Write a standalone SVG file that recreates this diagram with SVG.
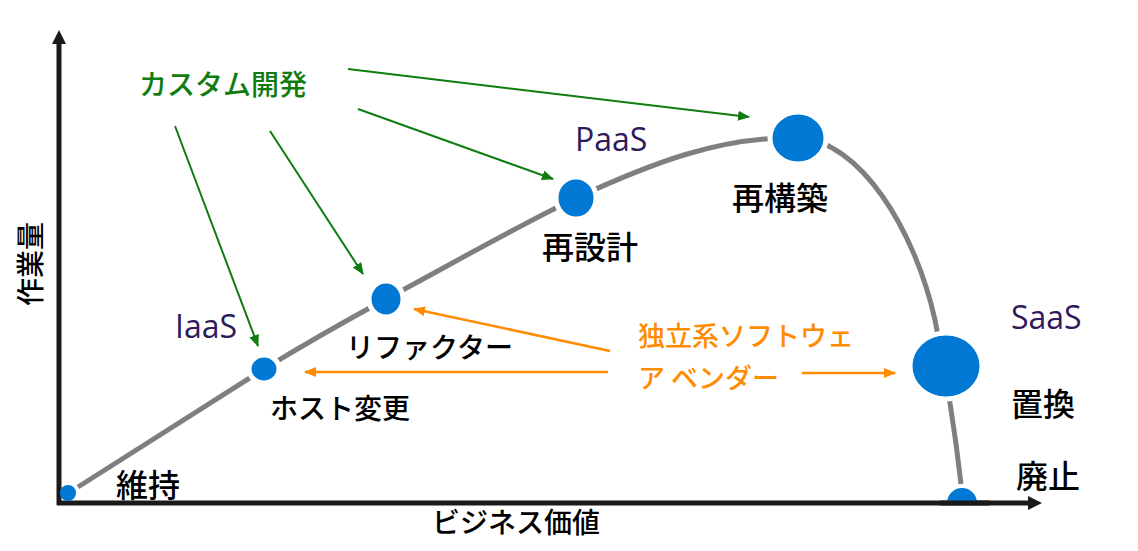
<svg xmlns="http://www.w3.org/2000/svg" width="1138" height="551" viewBox="0 0 1138 551">
<defs>
<style>
.jp{font-family:"Noto Sans CJK JP","Noto Sans",sans-serif;font-size:28px;font-weight:500;fill:#000}
.kj{font-size:32px}
.lat{font-family:"Open Sans","Noto Sans",sans-serif;font-size:32px;fill:#2f1a5c}
.green{font-family:"Noto Sans CJK JP",sans-serif;font-size:28px;font-weight:500;fill:#107c10}
.orange{font-family:"Noto Sans CJK JP",sans-serif;font-size:27px;font-weight:500;fill:#ff8c00}
.dot{fill:#0078d4;stroke:#fff;stroke-width:5}
.ga{stroke:#107c10;stroke-width:2;fill:none;marker-end:url(#mg)}
.oa{stroke:#ff8c00;stroke-width:2.5;fill:none;marker-end:url(#mo)}
.axis{stroke:#1a1a1a;stroke-width:5;fill:none}
</style>
<marker id="mg" viewBox="0 0 12 10" refX="11" refY="5" markerWidth="12" markerHeight="10" markerUnits="userSpaceOnUse" orient="auto"><path d="M0,0 L12,5 L0,10 Z" fill="#107c10"/></marker>
<marker id="mo" viewBox="0 0 12 10" refX="11" refY="5" markerWidth="12" markerHeight="10" markerUnits="userSpaceOnUse" orient="auto"><path d="M0,0 L12,5 L0,10 Z" fill="#ff8c00"/></marker>
<clipPath id="above"><rect x="0" y="0" width="1138" height="503"/></clipPath>
</defs>
<g id="curve">
<path d="M 78 487 L 264 369 C 300 347, 340 324, 386 299 C 450 265, 510 230, 576 198 C 650 164, 720 136, 798 138 C 860 140, 915 230, 935 320 C 945 370, 955 430, 961 484" stroke="#7f7f7f" stroke-width="5" fill="none"/>
</g>
<g id="axes">
<path class="axis" d="M 59 505 L 59 44"/>
<path d="M 52 44 L 59 30 L 66 44 Z" fill="#1a1a1a"/>
<path class="axis" d="M 57 503 L 1028 503"/>
<path d="M 1028 496 L 1042 503 L 1028 510 Z" fill="#1a1a1a"/>
</g>
<g id="node-ijii"><circle cx="68" cy="493" r="8" fill="#0078d4"/><text class="jp kj" x="116" y="497">維持</text></g>
<g id="node-host"><ellipse class="dot" cx="264" cy="369" rx="15" ry="14"/><text class="jp" x="270" y="419">ホスト変更</text><text class="lat" x="175" y="338">IaaS</text></g>
<g id="node-refactor"><ellipse class="dot" cx="386" cy="299" rx="17" ry="18"/><text class="jp" x="346" y="358">リファクター</text></g>
<g id="node-redesign"><ellipse class="dot" cx="576" cy="198" rx="20" ry="21"/><text class="jp kj" x="542" y="259">再設計</text><text class="lat" x="575" y="151">PaaS</text></g>
<g id="node-rebuild"><ellipse class="dot" cx="798" cy="138" rx="28" ry="26"/><text class="jp kj" x="732" y="210">再構築</text></g>
<g id="node-replace"><ellipse class="dot" cx="946" cy="366" rx="36" ry="33"/><text class="jp kj" x="1011" y="416">置換</text><text class="lat" x="1011" y="329">SaaS</text></g>
<g id="node-retire"><circle cx="962" cy="503" r="15" fill="#0078d4" clip-path="url(#above)"/><path class="axis" d="M 940 503 L 990 503"/><text class="jp kj" x="1016" y="488">廃止</text></g>
<g id="axis-labels">
<text class="jp" x="432" y="533">ビジネス価値</text>
<text class="jp" transform="translate(41,264) rotate(-90)" text-anchor="middle">作業量</text>
</g>
<g id="custom"><text class="green" x="139" y="95">カスタム開発</text></g>
<g id="isv"><text class="orange" x="638" y="346">独立系ソフトウェ</text><text class="orange" x="638" y="388">ア ベンダー</text></g>
<g id="connectors">
<path class="ga" d="M 348 69 L 749 117"/>
<path class="ga" d="M 358 109 L 553 179"/>
<path class="ga" d="M 270 131 L 363 274"/>
<path class="ga" d="M 175 126 L 258 346"/>
<path class="oa" d="M 610 351 L 414 309"/>
<path class="oa" d="M 608 372 L 305 372"/>
<path class="oa" d="M 802 373 L 895 373"/>
</g>
</svg>
